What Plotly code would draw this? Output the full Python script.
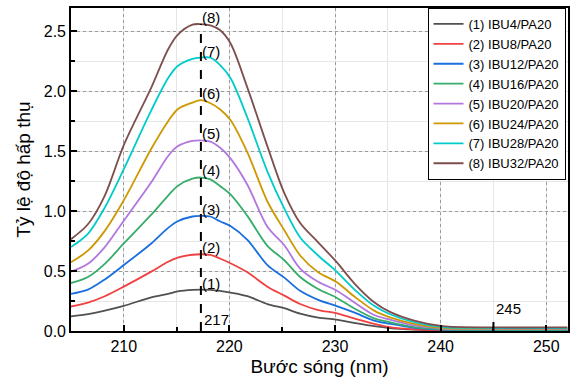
import plotly.graph_objects as go

wavelength = [205, 206.6, 208.2, 210, 212.6, 214.2, 215.1, 216.5, 217.3, 218.2, 219.1, 220.1,
              221.7, 223.6, 225.2, 226.7, 228.4, 230.1, 231.8, 233.7, 235.2, 237.5, 240.2, 245, 252]

s1 = [0.122, 0.14, 0.17, 0.21, 0.28, 0.31, 0.33, 0.343, 0.345, 0.343, 0.335, 0.32,
      0.29, 0.225, 0.19, 0.145, 0.112, 0.095, 0.068, 0.04, 0.024, 0.011, 0.004, 0.003, 0.003]
s2 = [0.204, 0.237, 0.29, 0.37, 0.495, 0.577, 0.612, 0.636, 0.64, 0.635, 0.605, 0.565,
      0.49, 0.37, 0.295, 0.225, 0.175, 0.15, 0.106, 0.06, 0.033, 0.014, 0.006, 0.005, 0.005]
s3 = [0.31, 0.345, 0.43, 0.55, 0.73, 0.86, 0.915, 0.955, 0.96, 0.955, 0.915, 0.875,
      0.76, 0.55, 0.445, 0.335, 0.26, 0.21, 0.155, 0.087, 0.06, 0.027, 0.011, 0.008, 0.008]
s4 = [0.40, 0.45, 0.56, 0.73, 0.97, 1.13, 1.21, 1.27, 1.28, 1.265, 1.21, 1.14,
      0.96, 0.71, 0.59, 0.45, 0.35, 0.28, 0.19, 0.106, 0.073, 0.033, 0.014, 0.01, 0.01]
s5 = [0.495, 0.56, 0.70, 0.92, 1.24, 1.46, 1.54, 1.585, 1.59, 1.58, 1.53, 1.44,
      1.22, 0.87, 0.715, 0.52, 0.41, 0.34, 0.24, 0.133, 0.095, 0.046, 0.02, 0.015, 0.015]
s6 = [0.574, 0.67, 0.835, 1.09, 1.52, 1.75, 1.85, 1.905, 1.925, 1.90, 1.85, 1.76,
      1.49, 1.08, 0.84, 0.63, 0.49, 0.41, 0.29, 0.17, 0.114, 0.06, 0.025, 0.02, 0.02]
s7 = [0.70, 0.81, 1.03, 1.35, 1.84, 2.11, 2.21, 2.27, 2.28, 2.28, 2.22, 2.11,
      1.78, 1.33, 1.02, 0.78, 0.63, 0.50, 0.35, 0.21, 0.14, 0.073, 0.033, 0.025, 0.025]
s8 = [0.766, 0.89, 1.13, 1.55, 2.03, 2.35, 2.47, 2.555, 2.56, 2.55, 2.51, 2.40,
      2.03, 1.54, 1.15, 0.90, 0.74, 0.58, 0.40, 0.24, 0.16, 0.087, 0.04, 0.03, 0.03]

series = [s1, s2, s3, s4, s5, s6, s7, s8]
names = ["(1) IBU4/PA20", "(2) IBU8/PA20", "(3) IBU12/PA20", "(4) IBU16/PA20",
         "(5) IBU20/PA20", "(6) IBU24/PA20", "(7) IBU28/PA20", "(8) IBU32/PA20"]
peak_labels = ["(1)", "(2)", "(3)", "(4)", "(5)", "(6)", "(7)", "(8)"]
colors = ["#515151", "#F14040", "#1A6FDF", "#37AD6B", "#B177DE", "#CC9900", "#00CBCC", "#7D4E4E"]

peak_nm = 217.3
peak_label = "217"
mark_nm = 245
mark_label = "245"
mark_height = 0.14

x_ticks = [210, 220, 230, 240, 250]
y_ticks = [0.0, 0.5, 1.0, 1.5, 2.0, 2.5]
y_tick_text = ["0.0", "0.5", "1.0", "1.5", "2.0", "2.5"]

FONT = "Liberation Sans, Arial, sans-serif"

fig = go.Figure()
for vals, name, col in zip(series, names, colors):
    fig.add_trace(go.Scatter(x=wavelength, y=vals, name=name, mode="lines",
                             line=dict(color=col, width=1.8, shape="spline", smoothing=0.9)))

top_peak = max(s8)
fig.add_trace(go.Scatter(x=[peak_nm, peak_nm], y=[0, top_peak], mode="lines", showlegend=False,
                         line=dict(color="black", width=2, dash="dash"), hoverinfo="skip"))
fig.add_trace(go.Scatter(x=[mark_nm, mark_nm], y=[0, mark_height], mode="lines", showlegend=False,
                         line=dict(color="black", width=2, dash="dash"), hoverinfo="skip"))

for vals, lab in zip(series, peak_labels):
    fig.add_annotation(x=peak_nm, y=max(vals) + 0.055, text=lab, showarrow=False,
                       xanchor="left", yanchor="middle", xshift=-1,
                       font=dict(family=FONT, size=15, color="black"))
fig.add_annotation(x=peak_nm, y=0.1, text=peak_label, showarrow=False, xanchor="left",
                   yanchor="middle", xshift=1, font=dict(family=FONT, size=15, color="black"))
fig.add_annotation(x=mark_nm, y=0.19, text=mark_label, showarrow=False, xanchor="left",
                   yanchor="middle", xshift=1, font=dict(family=FONT, size=15, color="black"))

axis_common = dict(showline=True, linecolor="black", linewidth=1.6, mirror=True,
                   ticks="inside", ticklen=6, tickwidth=1.5, tickcolor="black",
                   showgrid=True, gridcolor="#9a9a9a", griddash="dot", gridwidth=1,
                   zeroline=False, tickfont=dict(family=FONT, size=16, color="black"))

fig.update_xaxes(range=[205, 252.06], tickvals=x_ticks,
                 title=dict(text="Bước sóng (nm)", font=dict(family=FONT, size=19, color="black"),
                            standoff=6),
                 minor=dict(dtick=5, ticks="inside", ticklen=4, tickcolor="black",
                            showgrid=True, gridcolor="#e6e6e6", griddash="solid"),
                 **axis_common)
fig.update_yaxes(range=[0, 2.694], tickvals=y_ticks, ticktext=y_tick_text,
                 title=dict(text="Tỷ lệ độ hấp thụ", font=dict(family=FONT, size=19, color="black"),
                            standoff=8),
                 minor=dict(dtick=0.25, ticks="inside", ticklen=4, tickcolor="black",
                            showgrid=True, gridcolor="#e6e6e6", griddash="solid"),
                 **axis_common)

fig.update_layout(width=576, height=380, plot_bgcolor="white", paper_bgcolor="white",
                  margin=dict(l=71, r=7, t=6, b=44),
                  font=dict(family=FONT, color="black"),
                  legend=dict(x=0.995, y=1.0, xanchor="right", yanchor="top",
                              bgcolor="white", bordercolor="black", borderwidth=1,
                              font=dict(family=FONT, size=13, color="black"),
                              tracegroupgap=0, itemwidth=30))

fig.write_html("out.html", config={"displayModeBar": False},
               post_script="document.body.style.margin='0';")
